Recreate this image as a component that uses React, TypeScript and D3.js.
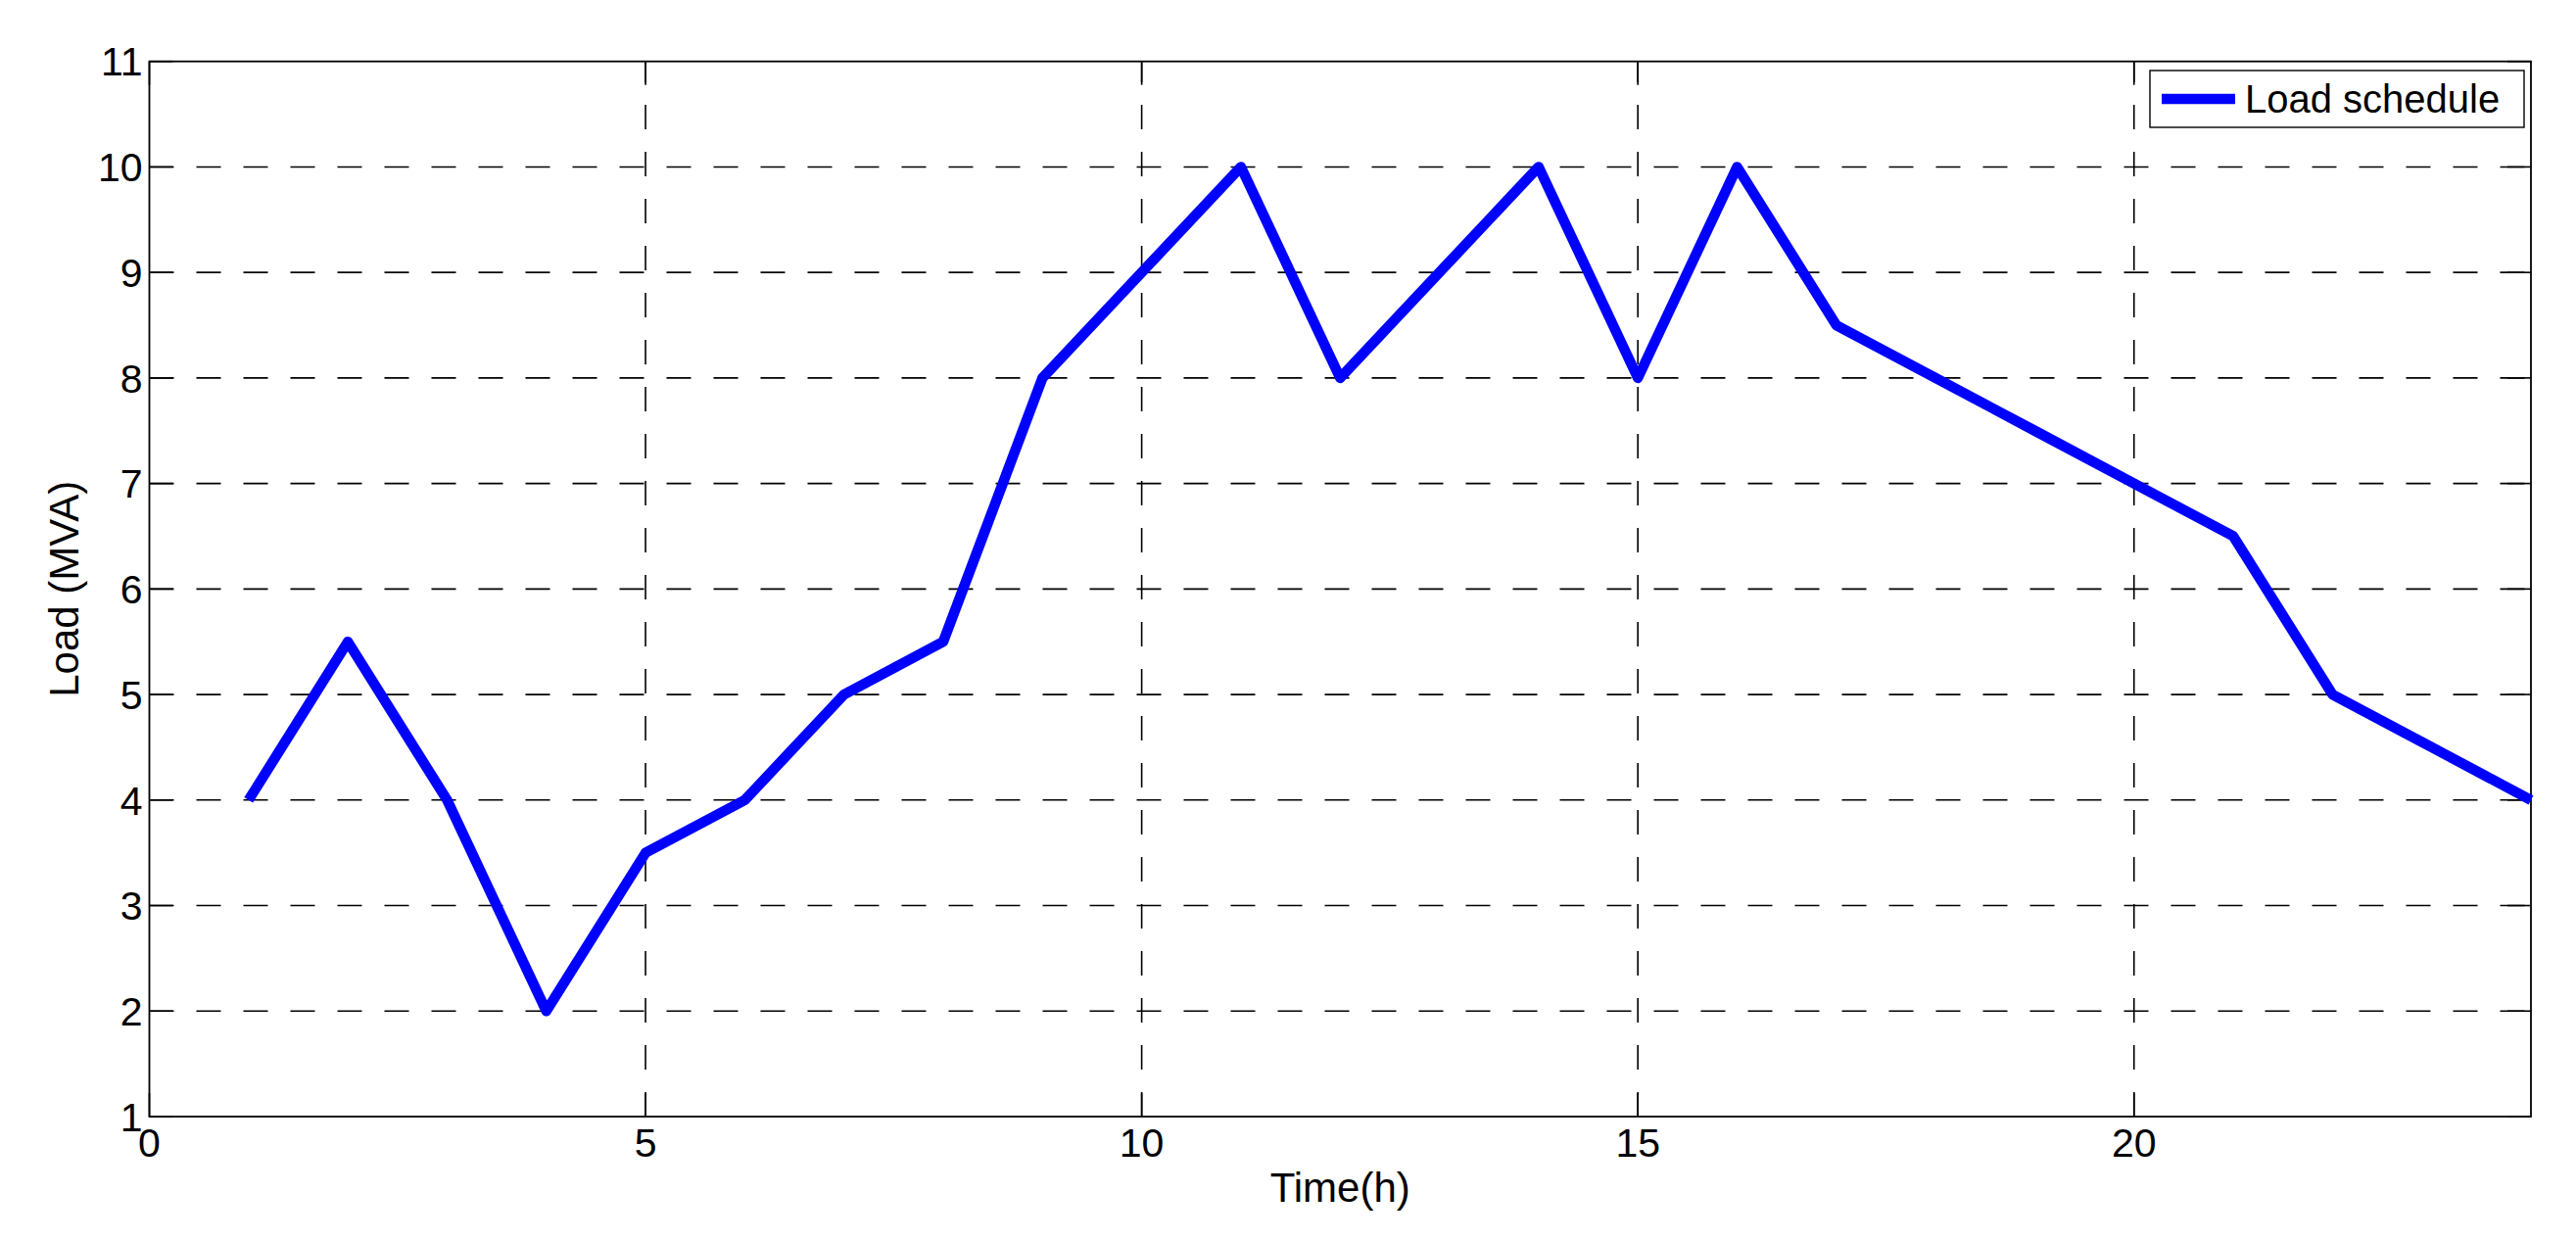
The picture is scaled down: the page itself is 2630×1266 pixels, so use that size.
import React from "react";
import * as d3 from "d3";

const hours = [1,2,3,4,5,6,7,8,9,10,11,12,13,14,15,16,17,18,19,20,21,22,23,24];
const loadMVA = [4,5.5,4,2,3.5,4,5,5.5,8,9,10,8,9,10,8,10,8.5,8,7.5,7,6.5,5,4.5,4];
const xTicks = [0,5,10,15,20];
const yTicks = [1,2,3,4,5,6,7,8,9,10,11];
const seriesName = "Load schedule";
const xLabel = "Time(h)";
const yLabel = "Load (MVA)";

const W = 2630, H = 1266;
const L = 152.5, R = 2584, T = 62.7, B = 1140;
const FONT = "'Liberation Sans', Arial, Helvetica, sans-serif";

export default function App() {
  const x = d3.scaleLinear().domain([0, 24]).range([L, R]);
  const y = d3.scaleLinear().domain([1, 11]).range([B, T]);
  const line = d3.line<number>().x((_, i) => x(hours[i])).y((d) => y(d));
  const tick = 24;
  return (
    <svg width={W} height={H} style={{ position: "absolute", left: 0, top: 0, background: "#fff" }} fontFamily={FONT}>
      <rect x={0} y={0} width={W} height={H} fill="#fff" />
      {/* grid */}
      {yTicks.slice(1, -1).map((t) => (
        <line key={"gy" + t} x1={L} x2={R} y1={y(t)} y2={y(t)} stroke="#000" strokeWidth={1.6} strokeDasharray="25,23" />
      ))}
      {xTicks.slice(1).map((t) => (
        <line key={"gx" + t} x1={x(t)} x2={x(t)} y1={B} y2={T} stroke="#000" strokeWidth={1.6} strokeDasharray="25,23" />
      ))}
      {/* ticks */}
      {yTicks.map((t) => (
        <g key={"ty" + t}>
          <line x1={L} x2={L + tick} y1={y(t)} y2={y(t)} stroke="#000" strokeWidth={1.6} />
          <line x1={R} x2={R - tick} y1={y(t)} y2={y(t)} stroke="#000" strokeWidth={1.6} />
          <text x={L - 7} y={y(t)} dy="0.36em" textAnchor="end" fontSize={41}>{t}</text>
        </g>
      ))}
      {xTicks.map((t) => (
        <g key={"tx" + t}>
          <line x1={x(t)} x2={x(t)} y1={B} y2={B - tick} stroke="#000" strokeWidth={1.6} />
          <line x1={x(t)} x2={x(t)} y1={T} y2={T + tick} stroke="#000" strokeWidth={1.6} />
          <text x={x(t)} y={1181} textAnchor="middle" fontSize={41}>{t}</text>
        </g>
      ))}
      {/* frame */}
      <rect x={L} y={T} width={R - L} height={B - T} fill="none" stroke="#000" strokeWidth={1.8} />
      {/* data */}
      <path d={line(loadMVA) || ""} fill="none" stroke="#0000ff" strokeWidth={10.5} strokeLinejoin="round" strokeLinecap="butt" />
      {/* labels */}
      <text x={(L + R) / 2} y={1227} textAnchor="middle" fontSize={42}>{xLabel}</text>
      <text transform={`translate(80,${(T + B) / 2}) rotate(-90)`} textAnchor="middle" fontSize={42}>{yLabel}</text>
      {/* legend */}
      <rect x={2195} y={72} width={2577 - 2195} height={58} fill="#fff" stroke="#000" strokeWidth={1.4} />
      <line x1={2207} x2={2282} y1={101} y2={101} stroke="#0000ff" strokeWidth={10.5} />
      <text x={2292} y={115} fontSize={40}>{seriesName}</text>
    </svg>
  );
}
